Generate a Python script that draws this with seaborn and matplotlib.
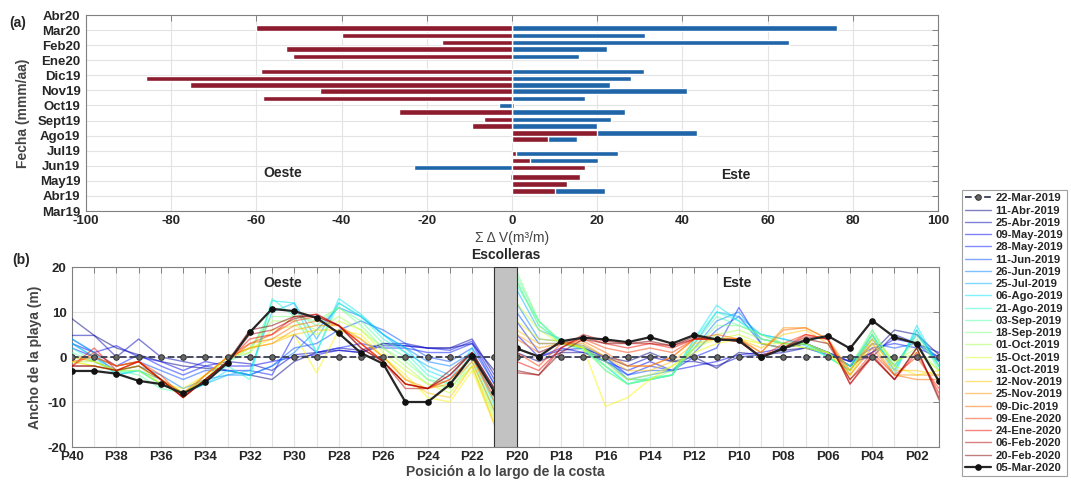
import matplotlib
matplotlib.use('Agg')
import matplotlib.pyplot as plt
import numpy as np
import pandas as pd
import seaborn as sns

sns.set_theme(style='white')
plt.rcParams['font.family'] = ['Liberation Sans', 'DejaVu Sans']
plt.rcParams['font.weight'] = 'bold'
plt.rcParams['axes.unicode_minus'] = False

# ---------------- data ----------------
# survey dates (volume changes relative to 22-Mar-2019)
survey_dates = ['2019-04-11', '2019-04-25', '2019-05-09', '2019-05-28', '2019-06-11', '2019-06-26',
                '2019-07-25', '2019-08-06', '2019-08-21', '2019-09-03', '2019-09-18', '2019-10-01',
                '2019-10-15', '2019-10-31', '2019-11-12', '2019-11-25', '2019-12-09', '2020-01-09',
                '2020-01-24', '2020-02-06', '2020-02-20', '2020-03-05']
red_bars = [10.2, 13, 16, 17.2, 4.3, 1, 8.4, 20, -9.5, -6.5, -26.5, 0.4, -58.5, -45, -75.5, -86,
            -59, -51.5, -53, -16.5, -40, -60]
blue_bars = [21.8, 0.3, -0.5, -23, 20.3, 25, 15.3, 43.4, 20, 23.3, 26.6, -3, 17.2, 41, 22.9, 28,
             31, 15.7, 22.3, 65, 31.3, 76.3]
month_labels = ['Mar19', 'Abr19', 'May19', 'Jun19', 'Jul19', 'Ago19', 'Sept19', 'Oct19', 'Nov19',
                'Dic19', 'Ene20', 'Feb20', 'Mar20', 'Abr20']

# beach width profiles P40..P21 (west) and P20..P01 (east)
profiles = ['P%02d' % p for p in range(40, 0, -1)]
legend_labels = ['22-Mar-2019', '11-Abr-2019', '25-Abr-2019', '09-May-2019', '28-May-2019',
                 '11-Jun-2019', '26-Jun-2019', '25-Jul-2019', '06-Ago-2019', '21-Ago-2019',
                 '03-Sep-2019', '18-Sep-2019', '01-Oct-2019', '15-Oct-2019', '31-Oct-2019',
                 '12-Nov-2019', '25-Nov-2019', '09-Dic-2019', '09-Ene-2020', '24-Ene-2020',
                 '06-Feb-2020', '20-Feb-2020', '05-Mar-2020']
width_22mar19 = [0] * 40
width_11abr19 = [8.5, 4.8, 2.0, 0.5, -1, -2, -2.5, -3, -4, -5, -1, 1, 1.5, 1, 3, 2.5, 2, 2, 3, -3,
                 1, -1, 1, 1, 0, -1, 1, -1, 0, -2.5, 1, 0.5, 1.5, 2, 1, -1, 1, 6, 5, 0.5]
width_25abr19 = [4.8, 4.8, 0, 4, 0, -1, -2, -1, -1.5, -3, 0.5, 1, 2, 1.5, 3, 3, 2, 2, 4, -4,
                 2, 0, 1.5, 2, 0, -2, 0, -1, -1, -2, 0, 0.5, 1, 2, 0.5, -1, 0, 5, 3, 1]
width_09may19 = [3, 1, 2.5, 0, -1, -3, -1, -2, -2, -1, 0, 0.5, 1.5, 1, 2.5, 2.5, 2, 1.5, 3.5, -5,
                 5, 0, 2, 1, -1, -3, -1, -3, -2, -1, 0.5, 1, 2, 3, 1, -2, 1, 4, 3, 0]
width_28may19 = [2, 0, -2, 0.5, -2, -4, -2, -3, -3, -4, 5, 1, 2, 3, 2, 2, 1, 1, 3, -6,
                 8, 1, 3, 2, 0, -4, -2, -3, 0, 2, 11, 3, 2, 3, 1, -1, 2, 3, 2, 0]
width_11jun19 = [4, 1, -2, -1, -3, -5, -3, -3, -4, -2, 2, 3, 6, 8, 6, 3, 0, -1, 2, -6,
                 10, 3, 3, 2, -1, -4, -3, -3, 1, 6, 9, 3, 2, 3, 1, -2, 3, 2, 3, -1]
width_26jun19 = [3, 0, -3, -2, -4, -7, -5, -4, -4, -2, 1, 6, 11, 9, 5, 2, -1, -2, 1, -7,
                 12, 4, 3.5, 2.5, 0, -5, -4, -3, 2, 8, 10, 4, 3, 3, 1, -2, 4, -2, 5, -1]
width_25jul19 = [4, 1, -4, -3, -5, -8, -6, -4, -3, 10, 12, 4, 12, 9, 5, 1, -2, -4, 1, -8,
                 15, 6, 4, 2, -1, -5, -5, -4, 3, 10, 9, 5, 4, 3, 1, -2, 5, -3, 6, -2]
width_06ago19 = [3, 0, -4, -3, -6, -8, -6, -3, -4, 12.5, 12, 1, 13, 9.5, 5, 2, -3, -5, 2, -10,
                 17, 7, 3.5, 2, -2, -6, -5, -4, 4, 11.5, 8, 5, 4, 2.5, 0, -3, 5, -4, 7, -2]
width_21ago19 = [2, -1, -3.5, -3, -6, -8, -5, -2, -5, 13, 9, 1, 12, 9, 4, 1, -4, -6, 1, -11,
                 16, 8, 3, 1.5, -2, -6, -4.5, -4, 4, 10, 8, 4, 3, 3, 0, -3, 5, -3, 6, -3]
width_03sep19 = [1, -1, -3, -4, -7, -8, -5, -1, 1, 11, 10, 7, 11, 8, 3, 0, -5, -6, 0, -12,
                 18, 8, 3.5, 2, -3, -6, -5, -4, 3, 9, 7, 5, 3, 3, 0, -3, 6, -2, 5, -2]
width_18sep19 = [0, -1, -3, -3, -6, -8, -5, -1, 2, 9, 9, 8, 11, 7, 2, -1, -5, -7, -1, -12,
                 19, 8, 3.5, 2, -3, -6, -5, -4, 2, 7, 7, 5, 3, 3, 1, -2, 6, -2, 4, -2]
width_01oct19 = [-1, -1, -3, -3, -6, -8, -5, 0, 2, 8, 8, 6, 9, 6, 2, -2, -6, -7, -2, -13,
                 17, 7, 3, 2, -2, -5, -5, -3, 2, 5, 6, 4, 3, 2, 1, -3, 5, -1, 2, -3]
width_15oct19 = [-1, -2, -3, -2, -5, -8, -5, 0, 1, 6, 7, 5, 8, 6, 1, -3, -6, -8, -2, -14,
                 12, 6, 3, 2, -1, -5, -4, -2, 2, 4, 5, 3, 3, 2, 1, -4, 4, -1, 1, -3]
width_31oct19 = [-1, -2, -3, -2, -6, -7, -4, 0, 2, 4, 5, -3.5, 6, 5, 0, -4, -9, -10, -3, -15,
                 8, 4, 3.5, 2, -11, -9, -5, -2, 1, 3, 4, 3, 2, 3, 1, -4, 3, -2, -4, -3]
width_12nov19 = [0, -1, -3, -1, -5, -8, -4, 0, 2, 3, 5, 6, 6, 4, 0, -5, -8, -9, -2, -15,
                 6, 3, 3, 2.5, 0, -3, -3, -1, 3, 4, 4, 2, 5, 6, 3, -3, 4, -3, -3, -4]
width_25nov19 = [0, 0, -2, -1, -5, -8, -4, 0, 2, 3, 6, 7, 7, 4, 0, -5, -7, -6, -1, -12,
                 5, 2, 3, 3, 0, -2, -2, 0, 4, 4, 4, 1, 6.5, 6.5, 4, -3, 3, -4, -4, -4]
width_09dic19 = [-1, 0, -2, -1, -5, -9, -4, 0, 3, 4, 7, 8, 7, 3, -1, -6, -7, -5, 0, -10,
                 4, 1, 3, 3.5, 1, -2, -2, 0, 4, 5, 4, 1, 6, 6.5, 4, -4, 2, -4, -5, -5]
width_09ene20 = [-2, 1, -2, -1, -4, -9, -5, -1, 3, 5, 8, 9, 7, 3, -1, -6, -7, -5, 0, -9,
                 1, -2, 3, 4, 2, 1, 2, 1, 4, 4, 4, 0, 3, 5, 4, -5, 1, -4, 0, -7]
width_24ene20 = [-2, 2, -3, -1, -5, -9, -5, -1, 4, 5, 9, 9.5, 7, 3, -1, -6, -7, -4, 1, -8,
                 -1, -3, 2, 4.5, 3, 2, 3, 2, 4, 4, 3.5, 0, 2, 5, 4, -6, 0, -5, 1, -8]
width_06feb20 = [-2, -2, -3, -1, -5, -9, -5, -1, 5, 6, 8.5, 9.5, 7, 2, -1, -7, -7, -4, 1, -7,
                 -3.5, -4, 2, 5, 3.5, 3, 3, 2.5, 4, 4, 3.5, 0, 2, 4.5, 4, -6, 0.5, -5, 2, -9]
width_20feb20 = [-2, -2, -3, -2, -5, -9, -5, -1, 6, 7, 9, 9, 7, 2, -1, -6, -7, -3, 1, -7,
                 -3, -4, 1, 4, 3, 3, 3.5, 2.5, 4.5, 4, 3.5, 0, 2, 4, 3, -5, 0, -5, 2, -9.5]
width_05mar20 = [-3.1, -3.1, -3.7, -5.3, -6, -8.1, -5.6, -1.3, 5.5, 10.7, 10.2, 8.7, 5.3, 0.9,
                 -1.5, -10, -10, -6.1, 0.3, -7.7,
                 1.9, 0.1, 3.5, 4.3, 3.9, 3.3, 4.4, 3.0, 4.9, 3.9, 3.7, -0.1, 1.9, 3.7, 4.7,
                 1.9, 8.1, 4.4, 3.0, -5.4]

widths = [width_22mar19, width_11abr19, width_25abr19, width_09may19, width_28may19, width_11jun19,
          width_26jun19, width_25jul19, width_06ago19, width_21ago19, width_03sep19, width_18sep19,
          width_01oct19, width_15oct19, width_31oct19, width_12nov19, width_25nov19, width_09dic19,
          width_09ene20, width_24ene20, width_06feb20, width_20feb20, width_05mar20]

# ---------------- figure ----------------
fig = plt.figure(figsize=(10.71, 4.82), dpi=100)
ax1 = fig.add_axes([0.0803, 0.5622, 0.7955, 0.4066])
ax2 = fig.add_axes([0.0672, 0.0726, 0.8095, 0.3734])

txt = '#262626'
edge = '#808080'
gridc = '#e3e3e3'


def matlab_axes(ax):
    for s in ax.spines.values():
        s.set_color(edge)
        s.set_linewidth(0.8)
    ax.tick_params(direction='in', length=4, width=0.7, color=edge, labelcolor=txt,
                   labelsize=9.5, top=True, right=True)
    ax.tick_params(axis='x', pad=3)
    ax.tick_params(axis='y', pad=4)
    for lab in ax.get_xticklabels() + ax.get_yticklabels():
        lab.set_fontweight('bold')
    ax.grid(True, color=gridc, lw=0.8)
    ax.set_axisbelow(True)


# (a) cumulative volume change
d = pd.to_datetime(survey_dates)
ypos = (d.year - 2019) * 12 + d.month - 3 + (d.day - 1) / d.days_in_month
ax1.barh(ypos, blue_bars, height=0.36, color='#1f65a8', zorder=2)
ax1.barh(ypos, red_bars, height=0.36, color='#8c1c2e', zorder=3)
ax1.set_xlim(-100, 100)
ax1.set_ylim(0, 13)
ax1.set_xticks(np.arange(-100, 101, 20))
ax1.set_yticks(np.arange(14))
ax1.set_yticklabels(month_labels)
matlab_axes(ax1)
ax1.set_xlabel('Σ Δ V(m³/m)', fontsize=10, color='#444444', fontweight='normal', labelpad=3)
ax1.set_ylabel('Fecha (mmm/aa)', fontsize=10, color='#444444', fontweight='bold', labelpad=5)
ax1.text(-53.7, 2.5, 'Oeste', ha='center', va='center', fontsize=10, fontweight='bold', color=txt)
ax1.text(52.5, 2.4, 'Este', ha='center', va='center', fontsize=10, fontweight='bold', color=txt)
fig.text(0.009, 0.945, '(a)', fontsize=10, fontweight='bold', color=txt)

# (b) beach width along the coast
xidx = np.arange(40)
colors = plt.cm.jet(np.linspace(0, 1, 21))
handles = []
for i, w in enumerate(widths):
    w = np.asarray(w, dtype=float)
    if i == 0:
        kw = dict(color='#3a3f55', lw=1.3, linestyle='--', marker='o', markersize=4,
                  markerfacecolor='#666666', markeredgecolor='#333333', zorder=5)
    elif i == len(widths) - 1:
        kw = dict(color='#262626', lw=1.6, marker='o', markersize=4,
                  markerfacecolor='#111111', markeredgecolor='#111111', zorder=6)
    else:
        kw = dict(color=colors[i - 1], lw=1.0, alpha=0.5, zorder=3)
    for seg in (slice(0, 20), slice(20, 40)):
        sns.lineplot(x=xidx[seg], y=w[seg], ax=ax2, legend=False, **kw)
    handles.append(ax2.lines[-1])

ax2.axvspan(19, 20, facecolor='#c2c2c2', edgecolor='#333333', lw=0.8, zorder=7)
ax2.set_xlim(0, 39)
ax2.set_ylim(-20, 20)
ax2.set_xticks(xidx)
ax2.set_xticklabels([p if i % 2 == 0 else '' for i, p in enumerate(profiles)])
ax2.set_yticks([-20, -10, 0, 10, 20])
matlab_axes(ax2)
ax2.set_xlabel('Posición a lo largo de la costa', fontsize=10, color='#444444', fontweight='bold',
               labelpad=1)
ax2.set_ylabel('Ancho de la playa (m)', fontsize=10, color='#444444', fontweight='bold', labelpad=4)
ax2.text(9.5, 16.4, 'Oeste', ha='center', va='center', fontsize=10, fontweight='bold', color=txt)
ax2.text(29.9, 16.4, 'Este', ha='center', va='center', fontsize=10, fontweight='bold', color=txt)
ax2.text(19.5, 21.2, 'Escolleras', ha='center', va='bottom', fontsize=10, fontweight='bold',
         color=txt)
fig.text(0.011, 0.452, '(b)', fontsize=10, fontweight='bold', color=txt)

leg = fig.legend(handles, legend_labels, loc='upper left', bbox_to_anchor=(0.898, 0.606),
                 fontsize=8.1, handlelength=2.3, labelspacing=0.2, borderpad=0.3,
                 handletextpad=0.4, fancybox=False, frameon=True, borderaxespad=0)
leg.get_frame().set_edgecolor('#888888')
leg.get_frame().set_linewidth(0.8)
for t in leg.get_texts():
    t.set_color(txt)
    t.set_fontweight('bold')

fig.savefig('out.png', dpi=100)
